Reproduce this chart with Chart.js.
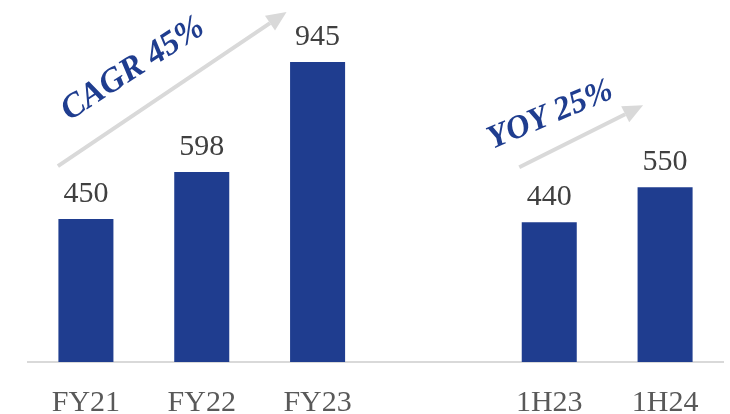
<!DOCTYPE html>
<html>
<head>
<meta charset="utf-8">
<script src="https://cdn.jsdelivr.net/npm/chart.js@4"></script>
<style>
html,body{margin:0;padding:0;background:#fff;}
#wrap{width:730px;height:414px;position:relative;}
</style>
</head>
<body>
<div id="wrap"><canvas id="c"></canvas></div>
<script>
const categories = ['FY21', 'FY22', 'FY23', '', '1H23', '1H24'];
const revenue = [450, 598, 945, null, 440, 550];
const annotations = [
  { text: 'CAGR 45%', fromIdx: 0, toIdx: 2 },
  { text: 'YOY 25%', fromIdx: 4, toIdx: 5 }
];

const barColor = '#1f3d8f';

const labelPlugin = {
  id: 'labels',
  afterDatasetsDraw(chart) {
    const ctx = chart.ctx;
    const meta = chart.getDatasetMeta(0);
    ctx.save();
    ctx.fillStyle = '#404040';
    ctx.font = '30px "Liberation Serif", "Times New Roman", serif';
    ctx.textAlign = 'center';
    ctx.textBaseline = 'alphabetic';
    meta.data.forEach((el, i) => {
      const v = revenue[i];
      if (v == null) return;
      ctx.fillText(String(v), el.x, el.y - 17);
    });
    ctx.restore();
  }
};

function arrow(ctx, x1, y1, x2, y2) {
  const ang = Math.atan2(y2 - y1, x2 - x1);
  const head = 20, hw = 9;
  const bx = x2 - head * Math.cos(ang), by = y2 - head * Math.sin(ang);
  ctx.strokeStyle = '#d9d9d9';
  ctx.fillStyle = '#d9d9d9';
  ctx.lineWidth = 4;
  ctx.beginPath();
  ctx.moveTo(x1, y1);
  ctx.lineTo(bx, by);
  ctx.stroke();
  ctx.beginPath();
  ctx.moveTo(x2, y2);
  ctx.lineTo(bx + hw * Math.sin(ang), by - hw * Math.cos(ang));
  ctx.lineTo(bx - hw * Math.sin(ang), by + hw * Math.cos(ang));
  ctx.closePath();
  ctx.fill();
}

const arrowPlugin = {
  id: 'arrows',
  afterDraw(chart) {
    const ctx = chart.ctx;
    const el = chart.getDatasetMeta(0).data;
    ctx.save();
    const a0 = el[annotations[0].fromIdx], a1 = el[annotations[0].toIdx];
    arrow(ctx, a0.x - 28, a0.y - 53, a1.x - 31, a1.y - 50);
    const b0 = el[annotations[1].fromIdx], b1 = el[annotations[1].toIdx];
    arrow(ctx, b0.x - 30, b0.y - 55, b1.x - 22, b1.y - 82);

    ctx.fillStyle = barColor;
    ctx.textAlign = 'center';
    ctx.textBaseline = 'middle';
    ctx.font = 'italic bold 34px "Liberation Serif", "Times New Roman", serif';
    ctx.save();
    ctx.translate(a0.x + 47, a0.y - 150);
    ctx.rotate(-33 * Math.PI / 180);
    ctx.fillText(annotations[0].text, 0, 0);
    ctx.restore();

    ctx.font = 'italic bold 33px "Liberation Serif", "Times New Roman", serif';
    ctx.save();
    ctx.translate(b0.x + 1, b0.y - 107);
    ctx.rotate(-23 * Math.PI / 180);
    ctx.fillText(annotations[1].text, 0, 0);
    ctx.restore();
    ctx.restore();
  }
};

new Chart(document.getElementById('c'), {
  type: 'bar',
  data: {
    labels: categories,
    datasets: [{
      data: revenue,
      backgroundColor: barColor,
      categoryPercentage: 1,
      barPercentage: 0.475
    }]
  },
  options: {
    responsive: true,
    maintainAspectRatio: false,
    animation: false,
    devicePixelRatio: 1,
    layout: { padding: { left: 28, right: 7, top: 0, bottom: 0 } },
    plugins: { legend: { display: false }, tooltip: { enabled: false } },
    scales: {
      x: {
        grid: { display: false, drawTicks: false },
        border: { display: true, color: '#d9d9d9', width: 2 },
        afterFit(scale) { scale.height = 52; },
        ticks: {
          color: '#595959',
          padding: 26,
          maxRotation: 0,
          autoSkip: false,
          font: { family: '"Liberation Serif", "Times New Roman", serif', size: 30, lineHeight: 1 }
        }
      },
      y: {
        display: false,
        min: 0,
        max: 1140
      }
    }
  },
  plugins: [labelPlugin, arrowPlugin]
});
</script>
</body>
</html>
